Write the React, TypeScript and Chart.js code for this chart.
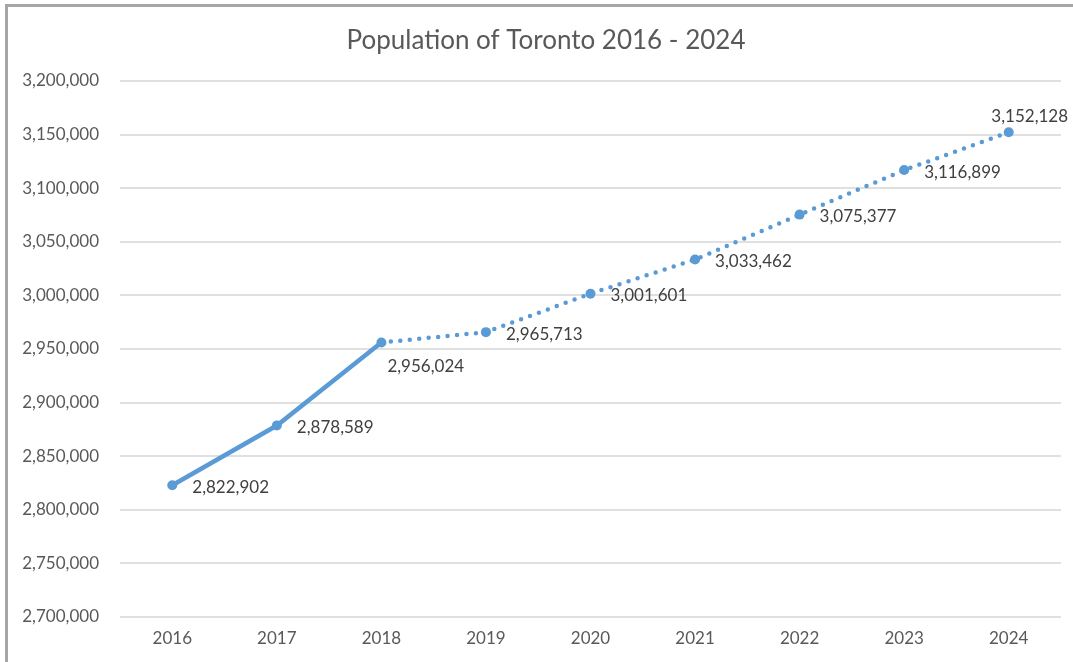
import React, { useEffect, useRef } from "react";
import { Chart, registerables } from "chart.js";

Chart.register(...registerables);

const years = ["2016", "2017", "2018", "2019", "2020", "2021", "2022", "2023", "2024"];
const population = [2822902, 2878589, 2956024, 2965713, 3001601, 3033462, 3075377, 3116899, 3152128];
const yMin = 2700000;
const yMax = 3200000;
const yStep = 50000;
const labelPlacement = ["right", "right", "below", "right", "right", "right", "right", "right", "above"];
const titleText = "Population of Toronto 2016 - 2024";

const FONT = "Lato";
const BLUE = "#5B9BD5";

const fmt = (v: number) => Number(v).toLocaleString("en-US");

const dataLabelPlugin = {
  id: "dataLabels",
  afterDatasetsDraw(chart: any) {
    const ctx = chart.ctx;
    const meta = chart.getDatasetMeta(0);
    ctx.save();
    ctx.font = `17px ${FONT}`;
    ctx.fillStyle = "#404040";
    ctx.textBaseline = "middle";
    meta.data.forEach((pt: any, i: number) => {
      const txt = fmt(population[i]);
      const place = labelPlacement[i];
      if (place === "below") {
        ctx.textAlign = "left";
        ctx.fillText(txt, pt.x + 6, pt.y + 24);
      } else if (place === "above") {
        ctx.textAlign = "center";
        ctx.fillText(txt, pt.x + 21, pt.y - 16);
      } else {
        ctx.textAlign = "left";
        ctx.fillText(txt, pt.x + 20, pt.y + 2);
      }
    });
    ctx.restore();
  },
};

const titlePlugin = {
  id: "customTitle",
  afterDraw(chart: any) {
    const ctx = chart.ctx;
    ctx.save();
    ctx.font = `26px ${FONT}`;
    ctx.fillStyle = "#595959";
    ctx.textAlign = "center";
    ctx.textBaseline = "middle";
    ctx.fillText(titleText, 546, 41);
    ctx.restore();
  },
};

export default function App() {
  const ref = useRef<HTMLCanvasElement | null>(null);

  useEffect(() => {
    if (!ref.current) return;
    const chart = new Chart(ref.current, {
      type: "line",
      data: {
        labels: years,
        datasets: [
          {
            data: population,
            borderColor: BLUE,
            backgroundColor: BLUE,
            borderWidth: 4.5,
            borderCapStyle: "round",
            pointRadius: 5,
            pointHoverRadius: 5,
            pointBackgroundColor: BLUE,
            pointBorderWidth: 0,
            tension: 0,
            segment: {
              borderDash: (c: any) => (c.p0DataIndex >= 2 ? [0, 9.5] : undefined),
            },
          } as any,
        ],
      },
      options: {
        responsive: false,
        animation: false,
        layout: { padding: { left: 0, right: 12, top: 81, bottom: 5 } },
        plugins: {
          legend: { display: false },
          tooltip: { enabled: false },
          title: { display: false },
        },
        scales: {
          x: {
            type: "category",
            offset: true,
            grid: { display: false },
            border: { display: false },
            ticks: {
              color: "#595959",
              font: { family: FONT, size: 17 },
              padding: 3,
              maxRotation: 0,
            },
            afterFit: (s: any) => {
              s.height = 40;
            },
          },
          y: {
            min: yMin,
            max: yMax,
            border: { display: false },
            grid: { color: "#e0e0e0", lineWidth: 2, drawTicks: false },
            ticks: {
              stepSize: yStep,
              color: "#595959",
              font: { family: FONT, size: 17 },
              padding: 21,
              callback: (v: any) => fmt(v),
            },
            afterFit: (s: any) => {
              s.width = 120;
            },
          },
        },
      },
      plugins: [dataLabelPlugin, titlePlugin],
    } as any);
    return () => chart.destroy();
  }, []);

  return (
    <div
      style={{
        position: "fixed",
        left: 0,
        top: 0,
        width: 1073,
        height: 662,
        overflow: "hidden",
        background: "#fff",
      }}
    >
      <div
        style={{
          position: "absolute",
          left: 5,
          top: 4,
          width: 3000,
          height: 3000,
          borderTop: "3px solid #a6a6a6",
          borderLeft: "3px solid #a6a6a6",
        }}
      />
      <canvas
        ref={ref}
        width={1073}
        height={662}
        style={{ position: "absolute", left: 0, top: 0, width: 1073, height: 662 }}
      />
    </div>
  );
}
